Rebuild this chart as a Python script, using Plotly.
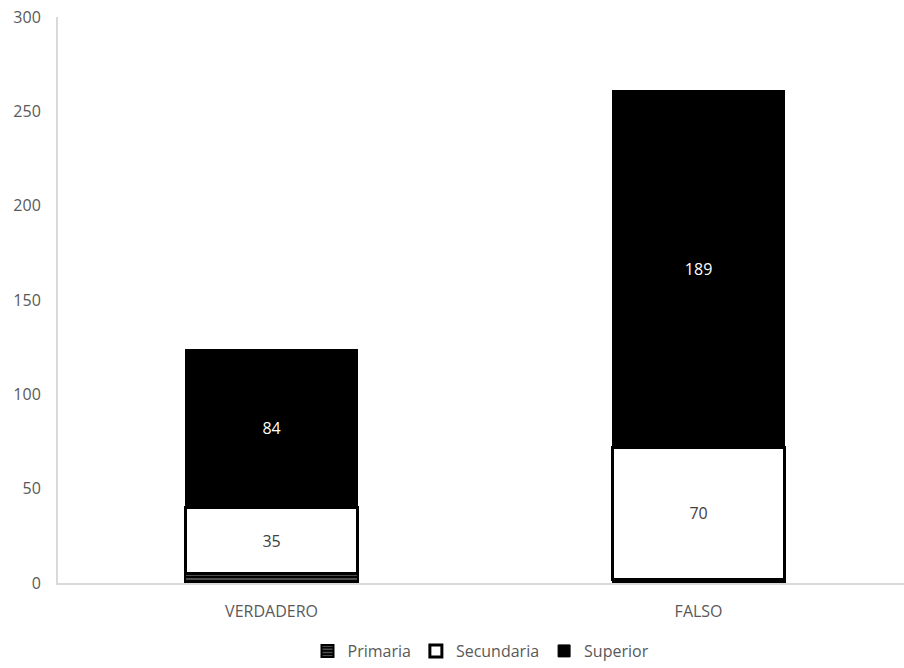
import plotly.graph_objects as go

categories = ["VERDADERO", "FALSO"]
primaria = [5, 2]
secundaria = [35, 70]
superior = [84, 189]
y_ticks = [0, 50, 100, 150, 200, 250, 300]

font_family = "Open Sans, Liberation Sans, sans-serif"
fig = go.Figure()
fig.add_trace(go.Bar(
    name="Primaria", x=categories, y=primaria, width=0.403,
    marker=dict(color="#000000", line=dict(color="#000000", width=2),
                pattern=dict(shape="-", fgcolor="#ffffff", bgcolor="#000000", size=4, solidity=0.3)),
    hoverinfo="skip",
))
fig.add_trace(go.Bar(
    name="Secundaria", x=categories, y=secundaria, width=0.403,
    marker=dict(color="#ffffff", line=dict(color="#000000", width=3)),
    text=[str(v) for v in secundaria], textposition="inside", insidetextanchor="middle",
    textfont=dict(color="#404040", size=16, family=font_family),
))
fig.add_trace(go.Bar(
    name="Superior", x=categories, y=superior, width=0.403,
    marker=dict(color="#000000", line=dict(color="#000000", width=1)),
    text=[str(v) for v in superior], textposition="inside", insidetextanchor="middle",
    textfont=dict(color="#ffffff", size=16, family=font_family),
))

fig.update_layout(
    barmode="stack",
    width=904, height=668,
    margin=dict(l=58, r=0, t=17, b=83),
    paper_bgcolor="#ffffff", plot_bgcolor="#ffffff",
    font=dict(family=font_family, color="#595959", size=16),
    showlegend=True,
    legend=dict(orientation="h", x=0.5, xanchor="center", y=-0.121, yanchor="middle",
                font=dict(size=16, color="#595959", family=font_family), traceorder="normal",
                itemwidth=30),
    uniformtext=dict(mode=False),
)
fig.update_xaxes(range=[-0.5, 1.481], showline=True, linecolor="#d9d9d9", linewidth=2,
                 ticks="", showgrid=False, tickfont=dict(size=16, color="#595959"), ticklabelstandoff=13)
fig.update_yaxes(range=[0, 300], tickvals=y_ticks, showline=True, linecolor="#d9d9d9", linewidth=2,
                 showgrid=False, zeroline=False, ticks="", tickfont=dict(size=16, color="#595959"),
                 ticklabelstandoff=12)

fig.write_html("out.html")
